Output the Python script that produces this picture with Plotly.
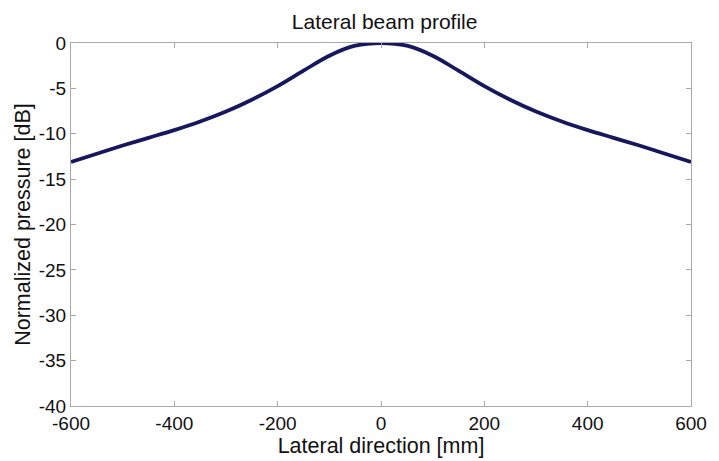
import plotly.graph_objects as go

# Lateral position [mm] and normalized pressure [dB]
lateral_mm = [-600, -550, -500, -450, -400, -350, -300, -250, -200, -150, -100, -50,
              0, 50, 100, 150, 200, 250, 300, 350, 400, 450, 500, 550, 600]
pressure_db = [-13.1, -12.2, -11.3, -10.45, -9.6, -8.65, -7.55, -6.25, -4.75, -3.05, -1.4, -0.3,
               0.0, -0.3, -1.4, -3.05, -4.75, -6.25, -7.55, -8.65, -9.6, -10.45, -11.3, -12.2, -13.1]

x_ticks = [-600, -400, -200, 0, 200, 400, 600]
y_ticks = [0, -5, -10, -15, -20, -25, -30, -35, -40]

FONT = "Liberation Sans, Arial, Helvetica, sans-serif"

fig = go.Figure()
fig.add_trace(go.Scatter(
    x=lateral_mm, y=pressure_db, mode="lines",
    line=dict(color="#16175c", width=3.8, shape="spline", smoothing=1.0),
    showlegend=False,
))

axis_common = dict(
    showline=True, mirror="ticks", linecolor="#a8a8b0", linewidth=1,
    ticks="inside", ticklen=5, tickcolor="#a8a8b0", tickwidth=1,
    showgrid=False, zeroline=False,
    tickfont=dict(family=FONT, size=19, color="#111111"),
)

fig.update_layout(
    width=719, height=461,
    margin=dict(l=71, r=20, t=43, b=50),
    paper_bgcolor="white", plot_bgcolor="white",
    title=dict(text="Lateral beam profile", x=0.535, xanchor="center",
               y=0.952, yanchor="middle",
               font=dict(family=FONT, size=21, color="#111111")),
    xaxis=dict(range=[-600, 600], tickvals=x_ticks,
               ticktext=[str(v) for v in x_ticks],
               title=dict(text="Lateral direction [mm]", standoff=0,
                          font=dict(family=FONT, size=21.5, color="#111111")),
               **axis_common),
    yaxis=dict(range=[-40, 0], tickvals=y_ticks,
               ticktext=[str(v) for v in y_ticks],
               title=dict(text="Normalized pressure [dB]", standoff=2,
                          font=dict(family=FONT, size=21.5, color="#111111")),
               **axis_common),
)

fig.write_html("out.html")
